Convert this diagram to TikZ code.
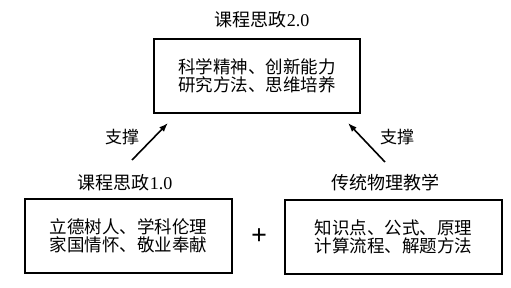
\documentclass[tikz,border=0pt]{standalone}
\usepackage{fontspec}
\usetikzlibrary{arrows.meta}
\setmainfont{Liberation Serif}
\newfontfamily\cjk{Noto Sans CJK SC}
\begin{document}
\begin{tikzpicture}[x=1pt,y=-1pt,
  box/.style={draw,line width=1.6pt,minimum width=206pt,minimum height=74pt,inner sep=0pt,align=center,font=\cjk\fontsize{17.5}{18.5}\selectfont},
  title/.style={font=\fontsize{18}{18}\selectfont},
  lbl/.style={font=\cjk\fontsize{17}{18}\selectfont},
  arr/.style={line width=1.6pt,-{Latex[length=9pt,width=6.5pt]}}]
\useasboundingbox (0,0) rectangle (511,287);
\node[box] (top) at (257,76) {科学精神、创新能力\\研究方法、思维培养};
\node[title] (ttop) at (262,20) {{\cjk 课程思政}2.0};
\node[box,minimum width=207pt] (left) at (128.5,236) {立德树人、学科伦理\\家国情怀、敬业奉献};
\node[title] (tleft) at (125,183) {{\cjk 课程思政}1.0};
\node[box,minimum width=217pt] (right) at (393.5,237) {知识点、公式、原理\\计算流程、解题方法};
\node[title] (tright) at (385,183) {\cjk 传统物理教学};
\node[font=\fontsize{28}{28}\selectfont\bfseries] (plus) at (259,237) {+};
\coordinate (a1) at (132,160);
\coordinate (a2) at (168,123);
\coordinate (b1) at (385,162);
\coordinate (b2) at (348,123);
\draw[arr] (a1) -- (a2);
\draw[arr] (b1) -- (b2);
\node[lbl] (sl) at (122,137) {支撑};
\node[lbl] (sr) at (397,137) {支撑};
\end{tikzpicture}
\end{document}
